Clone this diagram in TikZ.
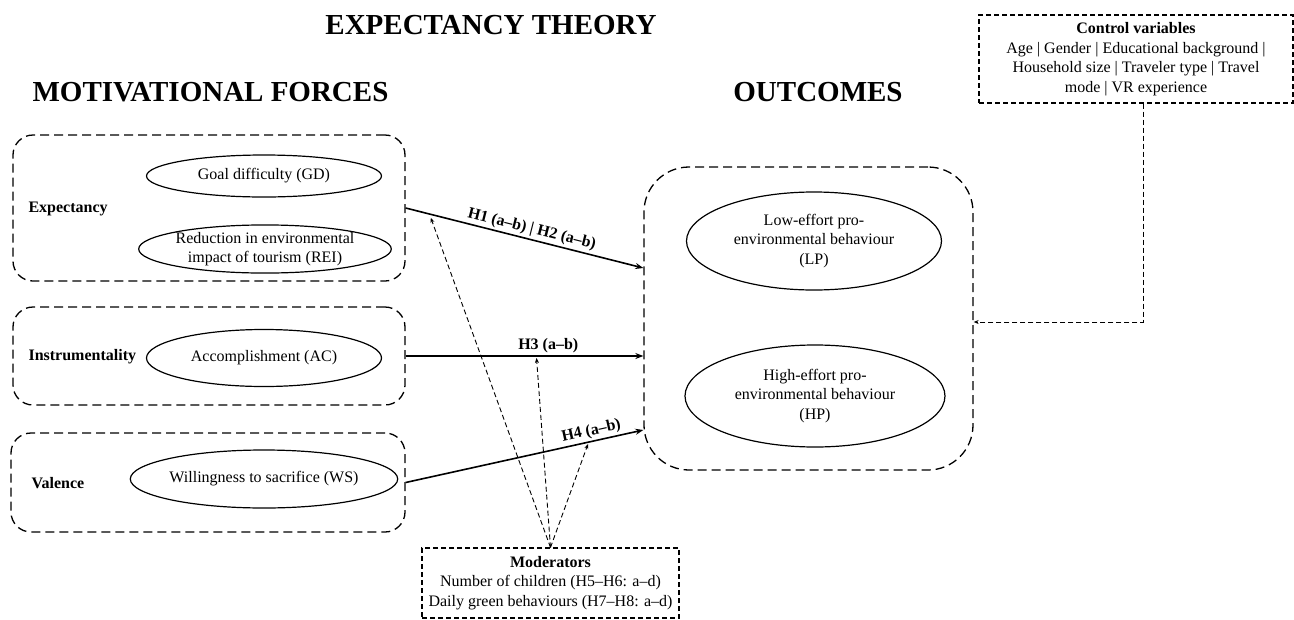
\documentclass[tikz,border=0pt]{standalone}
\usepackage{fontspec}
\setmainfont{Liberation Serif}
\usetikzlibrary{shapes.geometric,arrows.meta,calc}
\begin{document}
\begin{tikzpicture}[x=1pt,y=-1pt,
  every node/.style={font=\fontsize{16}{19.5}\selectfont},
  grp/.style={draw, dash pattern=on 9pt off 5pt, line width=1.3pt, rounded corners=20pt, inner sep=0pt},
  bigrp/.style={draw, dash pattern=on 9pt off 5pt, line width=1.3pt, rounded corners=45pt, inner sep=0pt},
  sbox/.style={draw, dash pattern=on 5pt off 3pt, line width=1.1pt, inner sep=0pt, align=center},
  oval/.style={draw, ellipse, line width=1.2pt, inner sep=0pt, align=center},
  cat/.style={font=\fontsize{16}{19.5}\selectfont\bfseries, anchor=west},
  ttl/.style={font=\fontsize{29}{33}\selectfont\bfseries},
  hyp/.style={-{Stealth[length=8pt,width=6pt]}, line width=1.6pt},
  modarr/.style={-{Stealth[length=5pt,width=4pt]}, dash pattern=on 5pt off 3pt, line width=0.9pt},
  hlab/.style={font=\fontsize{16}{19.5}\selectfont\bfseries, inner sep=2pt}
]
\useasboundingbox (0,0) rectangle (1294,619);

% titles
\node[ttl] (t) at (491,25) {EXPECTANCY THEORY};
\node[ttl] (mf) at (210.5,92) {MOTIVATIONAL FORCES};
\node[ttl] (oc) at (818,92) {OUTCOMES};

% expectancy group
\node[grp, minimum width=392pt, minimum height=146pt] (expbox) at (209,208) {};
\node[oval, minimum width=235pt, minimum height=42pt] (gd) at (264,176) {Goal difficulty (GD)};
\node[oval, minimum width=236pt, minimum height=48pt] (rei) at (265,249) {Reduction in environmental\\impact of tourism (REI)};
\node[cat] (exl) at (25,209) {Expectancy};

% instrumentality group
\node[grp, minimum width=392pt, minimum height=98pt] (instbox) at (209,356) {};
\node[oval, minimum width=235pt, minimum height=57pt] (ac) at (264,358) {Accomplishment (AC)};
\node[cat] (inl) at (25,357) {Instrumentality};

% valence group
\node[grp, minimum width=394pt, minimum height=99pt] (valbox) at (208,482.5) {};
\node[oval, minimum width=233pt, minimum height=58pt] (ws) at (264,479) {Willingness to sacrifice (WS)};
\node[cat] (val) at (28,483) {Valence};

% outcomes
\node[bigrp, minimum width=329pt, minimum height=303pt] (outbox) at (808.5,318.5) {};
\node[oval, minimum width=255pt, minimum height=98pt] (lp) at (814,241) {Low-effort pro-\\environmental behaviour\\(LP)};
\node[oval, minimum width=260pt, minimum height=102pt] (hp) at (815,396) {High-effort pro-\\environmental behaviour\\(HP)};

% control variables
\node[sbox, minimum width=314pt, minimum height=88pt] (ctrl) at (1136,59) {\textbf{Control variables}\\Age | Gender | Educational background |\\Household size | Traveler type | Travel\\mode | VR experience};

% moderators
\node[sbox, minimum width=257pt, minimum height=70pt] (modbox) at (550.5,583) {\textbf{Moderators}\\Number of children (H5--H6: a--d)\\Daily green behaviours (H7--H8: a--d)};

% hypotheses
\draw[hyp] (expbox.east) -- (outbox.west |- 0,268)
  node[pos=0.52, above, sloped, hlab] {H1 (a--b) | H2 (a--b)}
  coordinate[pos=0.1] (m1);
\draw[hyp] (instbox.east) -- (outbox.west |- 0,356)
  node[pos=0.6, above, hlab] {H3 (a--b)}
  coordinate[pos=0.55] (m2);
\draw[hyp] (valbox.east) -- (outbox.west |- 0,430)
  node[pos=0.79, above, sloped, hlab] {H4 (a--b)}
  coordinate[pos=0.77] (m3);

% moderating arrows
\draw[modarr, shorten >=4pt] (modbox.north) -- (m1);
\draw[modarr, shorten >=2pt] (modbox.north) -- (m2);
\draw[modarr, shorten >=2pt] (modbox.north) -- (m3);

% control arrow
\coordinate (cs) at ($(ctrl.south)+(7,0)$);
\draw[modarr] (cs) |- (outbox.east |- 0,322);
\end{tikzpicture}
\end{document}
